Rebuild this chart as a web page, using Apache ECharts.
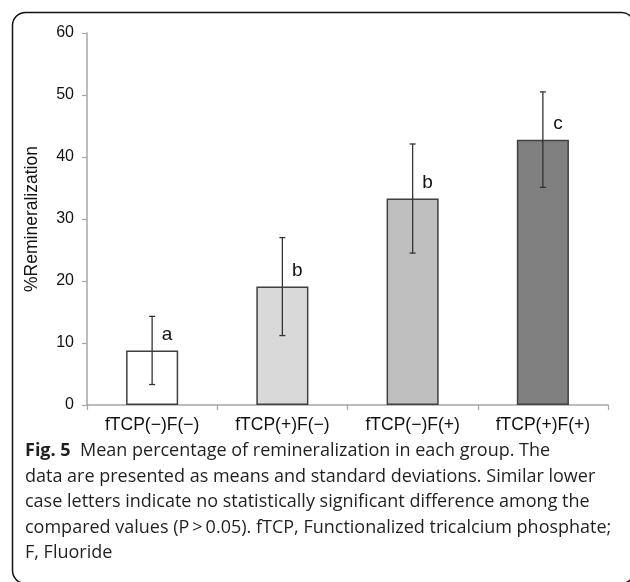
<!DOCTYPE html>
<html>
<head>
<meta charset="utf-8">
<script src="https://cdn.jsdelivr.net/npm/echarts@6/dist/echarts.min.js"></script>
<style>
html,body{margin:0;padding:0;background:#fff;}
#chart{width:630px;height:582px;}
</style>
</head>
<body>
<div id="chart"></div>
<script>
const categories = ['fTCP(\u2212)F(\u2212)', 'fTCP(+)F(\u2212)', 'fTCP(\u2212)F(+)', 'fTCP(+)F(+)'];
const means = [8.8, 19.1, 33.3, 42.8];
const sds = [5.5, 7.9, 8.8, 7.7];
const letters = ['a', 'b', 'b', 'c'];
const barColors = ['#ffffff', '#d9d9d9', '#bfbfbf', '#808080'];
const yMin = 0, yMax = 60, yStep = 10;
const yName = '%Remineralization';
const captionLines = [
  ['Fig. 5', '  Mean percentage of remineralization in each group. The'],
  ['', 'data are presented as means and standard deviations. Similar lower'],
  ['', 'case letters indicate no statistically significant difference among the'],
  ['', 'compared values (P\u2009>\u20090.05). fTCP, Functionalized tricalcium phosphate;'],
  ['', 'F, Fluoride']
];

const chart = echarts.init(document.getElementById('chart'), null, {renderer: 'canvas'});
const axisGray = '#a6a6a6';
const chartFont = '"Liberation Sans", Arial, sans-serif';

const captionGraphics = captionLines.map((ln, i) => ({
  type: 'text',
  left: 25,
  top: 442 + i * 25.5,
  style: {
    text: (ln[0] ? '{b|' + ln[0] + '}' : '') + '{n|' + ln[1] + '}',
    rich: {
      b: {fontFamily: '"Open Sans", sans-serif', fontWeight: 'bold', fontSize: 18, fill: '#231f20'},
      n: {fontFamily: '"Open Sans", sans-serif', fontSize: 18, fill: '#231f20'}
    }
  }
}));

chart.setOption({
  animation: false,
  backgroundColor: '#fff',
  grid: {left: 87, right: 22, top: 33, bottom: 177, containLabel: false},
  xAxis: {
    type: 'category',
    data: categories,
    axisLine: {lineStyle: {color: axisGray, width: 1.5}},
    axisTick: {show: true, length: 5, lineStyle: {color: axisGray, width: 1.2}},
    axisLabel: {color: '#111', fontSize: 17.5, fontFamily: chartFont, margin: 11, interval: 0},
    splitLine: {show: false}
  },
  yAxis: {
    type: 'value',
    min: yMin, max: yMax, interval: yStep,
    name: yName,
    nameLocation: 'middle',
    nameGap: 46,
    nameRotate: 90,
    nameTextStyle: {color: '#111', fontSize: 17.5, fontFamily: chartFont},
    axisLine: {show: true, lineStyle: {color: axisGray, width: 1.5}},
    axisTick: {show: true, length: 5, lineStyle: {color: axisGray, width: 1.2}},
    axisLabel: {color: '#111', fontSize: 16, fontFamily: chartFont, margin: 13},
    splitLine: {show: false}
  },
  series: [
    {
      type: 'bar',
      barWidth: '40%',
      data: means.map((v, i) => ({
        value: v,
        itemStyle: {color: barColors[i], borderColor: '#404040', borderWidth: 1.5},
        label: {
          show: true,
          position: 'top',
          distance: 6,
          offset: [15, 0],
          formatter: letters[i],
          fontSize: 19,
          fontFamily: chartFont,
          color: '#111'
        }
      })),
      z: 2
    },
    {
      type: 'custom',
      z: 5,
      data: means.map((m, i) => [i, m + sds[i], m - sds[i]]),
      renderItem: function (params, api) {
        const hi = api.coord([api.value(0), api.value(1)]);
        const lo = api.coord([api.value(0), api.value(2)]);
        const w = 3;
        const st = {stroke: '#333333', lineWidth: 1.3};
        return {
          type: 'group',
          children: [
            {type: 'line', shape: {x1: hi[0], y1: hi[1], x2: lo[0], y2: lo[1]}, style: st},
            {type: 'line', shape: {x1: hi[0] - w, y1: hi[1], x2: hi[0] + w, y2: hi[1]}, style: st},
            {type: 'line', shape: {x1: lo[0] - w, y1: lo[1], x2: lo[0] + w, y2: lo[1]}, style: st}
          ]
        };
      }
    }
  ],
  graphic: [
    {
      type: 'rect',
      left: 10, top: 10,
      shape: {width: 622, height: 571, r: 13},
      style: {fill: 'none', stroke: '#111', lineWidth: 1.5},
      silent: true
    }
  ].concat(captionGraphics)
});
</script>
</body>
</html>
